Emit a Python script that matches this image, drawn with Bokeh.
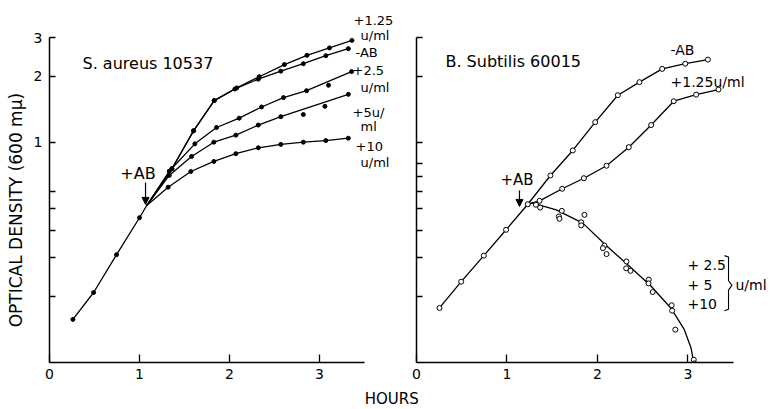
import math
from bokeh.plotting import figure
from bokeh.layouts import row, column
from bokeh.models import Range1d, FixedTicker, Label, Arrow, NormalHead, PrintfTickFormatter
from bokeh.embed import file_html
from bokeh.resources import INLINE

FONT = "DejaVu Sans"

# ---------------- data: S. aureus 10537 (hours, optical density) ----------------
sa_pre_h = [0.26, 0.49, 0.745, 1.0]
sa_pre_od = [0.157, 0.208, 0.309, 0.455]
sa_branch_h = 1.08
sa_branch_od = 0.517

sa_ctrl_h = [1.36, 1.60, 1.83, 2.06, 2.32, 2.57, 2.82, 3.07, 3.32]          # -AB
sa_ctrl_od = [0.76, 1.13, 1.55, 1.75, 1.94, 2.11, 2.28, 2.48, 2.67]
sa_125_h = [1.36, 1.60, 1.83, 2.08, 2.33, 2.61, 2.86, 3.11, 3.36]           # +1.25 u/ml
sa_125_od = [0.76, 1.13, 1.55, 1.77, 1.99, 2.26, 2.49, 2.69, 2.91]
sa_25_h = [1.33, 1.615, 1.856, 2.107, 2.356, 2.60, 2.856, 3.10, 3.356]      # +2.5 u/ml
sa_25_od = [0.74, 0.986, 1.17, 1.29, 1.45, 1.60, 1.72, 1.82, 2.10]
sa_25_off = [7]                                                            # dots off the curve
sa_5_h = [1.33, 1.578, 1.826, 2.07, 2.32, 2.57, 2.82, 3.06, 3.32]           # +5 u/ml
sa_5_od = [0.708, 0.864, 1.003, 1.08, 1.20, 1.31, 1.34, 1.46, 1.655]
sa_5_off = [6, 7]
sa_10_h = [1.318, 1.57, 1.826, 2.07, 2.32, 2.57, 2.82, 3.07, 3.32]          # +10 u/ml
sa_10_od = [0.626, 0.738, 0.82, 0.889, 0.946, 0.98, 1.003, 1.02, 1.046]

# ---------------- data: B. subtilis 60015 ----------------
bs_pre_h = [0.254, 0.494, 0.744, 0.99, 1.23]
bs_pre_od = [0.177, 0.233, 0.306, 0.401, 0.524]
bs_ctrl_h = [1.48, 1.727, 1.975, 2.225, 2.464, 2.715, 2.97, 3.22]            # -AB
bs_ctrl_od = [0.708, 0.92, 1.237, 1.64, 1.88, 2.16, 2.28, 2.38]
bs_125_h = [1.36, 1.61, 1.85, 2.10, 2.346, 2.593, 2.843, 3.09, 3.337]       # +1.25 u/ml
bs_125_od = [0.543, 0.616, 0.688, 0.784, 0.952, 1.20, 1.54, 1.65, 1.74]
bs_kill_h = [1.32, 1.367, 1.606, 1.573, 1.58, 1.856, 1.82, 1.82, 2.077, 2.06, 2.10,
             2.32, 2.317, 2.365, 2.567, 2.564, 2.61, 2.82, 2.825, 2.86, 3.064, 3.07, 3.11]
bs_kill_od = [0.521, 0.506, 0.489, 0.461, 0.45, 0.469, 0.434, 0.42, 0.34, 0.331, 0.311,
              0.288, 0.268, 0.261, 0.238, 0.229, 0.209, 0.182, 0.172, 0.141, 0.103, 0.099, 0.096]
bs_kill_curve_h = [1.23, 1.285, 1.544, 1.838, 2.096, 2.335, 2.593, 2.81, 2.96, 3.035, 3.064]
bs_kill_curve_od = [0.524, 0.53, 0.494, 0.43, 0.34, 0.278, 0.222, 0.177, 0.141, 0.116, 0.1]

x_ticks = [0, 1, 2, 3]
sa_y_major = [1, 2, 3]
sa_y_minor = [0.2, 0.3, 0.4, 0.5, 0.6]
bs_y_ticks = [0.2, 0.3, 0.4, 0.5, 0.6, 0.7, 0.8, 1, 2, 3]

Y_RANGE = (0.1, 3.98)
ROW_H = 387


def base_fig(width, xend, border_left):
    p = figure(width=width, height=ROW_H, y_axis_type="log",
               x_range=Range1d(0, xend), y_range=Range1d(*Y_RANGE),
               output_backend="svg", toolbar_location=None,
               min_border_left=border_left, min_border_right=0,
               min_border_top=10, min_border_bottom=ROW_H - 362)
    p.grid.visible = False
    p.outline_line_color = None
    for ax in (p.xaxis[0], p.yaxis[0]):
        ax.axis_line_color = "black"
        ax.axis_line_width = 1.5
        ax.major_tick_line_color = "black"
        ax.minor_tick_line_color = "black"
        ax.major_tick_line_width = 1.3
        ax.minor_tick_line_width = 1.3
        ax.major_tick_out = 0
        ax.minor_tick_out = 0
        ax.major_label_text_font = FONT
        ax.major_label_text_font_size = "14px"
        ax.major_label_text_color = "black"
    p.xaxis.ticker = FixedTicker(ticks=x_ticks, minor_ticks=[])
    p.xaxis.bounds = (0, 3.5)
    p.xaxis.major_tick_in = 8
    p.xaxis.major_label_standoff = 6
    p.yaxis.bounds = (0.1, 3)
    p.yaxis.major_tick_in = 6
    p.yaxis.minor_tick_in = 6
    return p


def add_label(p, x, y, text, size, align="left", angle=0.0):
    p.add_layout(Label(x=x, y=y, text=text, text_font=FONT, text_font_size=size,
                       text_color="black", text_align=align, text_baseline="middle",
                       angle=angle))


def add_arrow(p, x, y0, y1):
    p.add_layout(Arrow(end=NormalHead(size=7, line_color="black", fill_color="black", line_width=1),
                       x_start=x, y_start=y0, x_end=x, y_end=y1,
                       line_color="black", line_width=1.2))


def strip(width, height):
    s = figure(width=width, height=height, x_range=Range1d(0, 1), y_range=Range1d(0, 1),
               x_axis_type=None, y_axis_type=None, output_backend="svg",
               toolbar_location=None, min_border=0)
    s.grid.visible = False
    s.outline_line_color = None
    return s


LW = 1.3

# ---------------- y-axis title strip ----------------
p0 = strip(30, ROW_H)
add_label(p0, 0.53, 0.433, "OPTICAL DENSITY (600 mμ)", "17px", align="center", angle=math.pi / 2)

# ---------------- left panel ----------------
p1 = base_fig(365, 3.844, 19)
p1.yaxis.ticker = FixedTicker(ticks=sa_y_major, minor_ticks=sa_y_minor)
p1.yaxis.formatter = PrintfTickFormatter(format="%d")
p1.yaxis.major_label_standoff = 7

p1.line(sa_pre_h + [sa_branch_h], sa_pre_od + [sa_branch_od], line_color="black", line_width=LW)
p1.scatter(sa_pre_h, sa_pre_od, size=4, color="black")
series = [(sa_ctrl_h, sa_ctrl_od, []), (sa_125_h, sa_125_od, []), (sa_25_h, sa_25_od, sa_25_off),
          (sa_5_h, sa_5_od, sa_5_off), (sa_10_h, sa_10_od, [])]
for hs, ods, off in series:
    ch = [sa_branch_h] + [h for i, h in enumerate(hs) if i not in off]
    co = [sa_branch_od] + [o for i, o in enumerate(ods) if i not in off]
    p1.line(ch, co, line_color="black", line_width=LW)
    p1.scatter(hs, ods, size=4, color="black")

add_label(p1, 0.367, 2.286, "S.  aureus 10537", "16px")
add_label(p1, 0.983, 0.723, "+AB", "16px", align="center")
add_arrow(p1, 1.067, 0.658, 0.523)
for x, y, t in [(3.378, 3.585, "+1.25"), (3.456, 3.064, "u/ml"), (3.40, 2.565, "-AB"),
                (3.367, 2.125, "+2.5"), (3.456, 1.778, "u/ml"), (3.367, 1.369, "+5u/"),
                (3.456, 1.182, "ml"), (3.40, 0.954, "+10"), (3.456, 0.811, "u/ml")]:
    add_label(p1, x, y, t, "13px")

# ---------------- right panel ----------------
p2 = base_fig(375, 3.912, 21)
p2.yaxis.ticker = FixedTicker(ticks=[], minor_ticks=bs_y_ticks)

p2.line(bs_pre_h, bs_pre_od, line_color="black", line_width=LW)
p2.line([bs_pre_h[-1]] + bs_ctrl_h, [bs_pre_od[-1]] + bs_ctrl_od, line_color="black", line_width=LW)
p2.line([bs_pre_h[-1]] + bs_125_h, [bs_pre_od[-1]] + bs_125_od, line_color="black", line_width=LW)
p2.line(bs_kill_curve_h, bs_kill_curve_od, line_color="black", line_width=LW)
for hs, ods in [(bs_pre_h, bs_pre_od), (bs_ctrl_h, bs_ctrl_od), (bs_125_h, bs_125_od),
                (bs_kill_h, bs_kill_od)]:
    p2.scatter(hs, ods, size=5, marker="circle", fill_color="white",
               line_color="black", line_width=1)

add_label(p2, 0.32, 2.335, "B. Subtilis 60015", "16px")
add_label(p2, 1.11, 0.672, "+AB", "15px", align="center")
add_arrow(p2, 1.138, 0.605, 0.512)
add_label(p2, 2.807, 2.62, "-AB", "14px")
add_label(p2, 2.807, 1.874, "+1.25u/ml", "14px")
add_label(p2, 2.994, 0.276, "+ 2.5", "14px")
add_label(p2, 2.994, 0.224, "+ 5", "14px")
add_label(p2, 2.994, 0.1836, "+10", "14px")
add_label(p2, 3.525, 0.224, "u/ml", "14px")

# brace grouping the three concentrations
bx0, bx1, bx2 = 3.403, 3.448, 3.486
by_top, by_mid, by_bot = 0.306, 0.224, 0.172
p2.line([bx0, bx1, bx1, bx2, bx1, bx1, bx0],
        [by_top, by_top * 0.985, by_mid * 1.05, by_mid, by_mid / 1.05, by_bot / 0.985, by_bot],
        line_color="black", line_width=1.1)

# ---------------- shared x label strip ----------------
p3 = strip(770, 409 - ROW_H)
add_label(p3, 0.508, 0.5, "HOURS", "15px", align="center")

layout = column(row(p0, p1, p2), p3)
open("out.html", "w").write(file_html(layout, INLINE))
